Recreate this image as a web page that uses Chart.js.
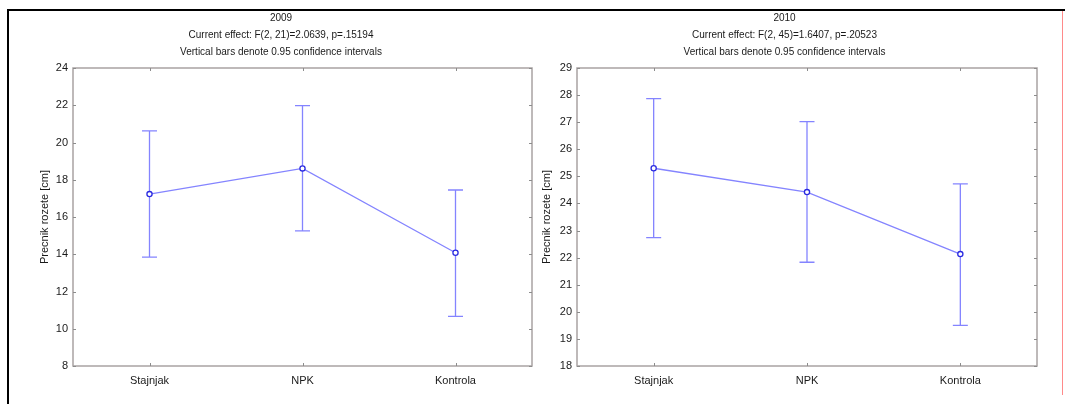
<!DOCTYPE html>
<html>
<head>
<meta charset="utf-8">
<script src="https://cdn.jsdelivr.net/npm/chart.js@4.4.1/dist/chart.umd.min.js"></script>
<style>
    body { margin: 0; background: #ffffff; }
    #page { position: relative; width: 1065px; height: 404px; overflow: hidden; }
    .box { position: absolute; top: 0; height: 404px; }
    #frameTop { position: absolute; left: 8px; top: 9px; width: 1057px; height: 2px; background: #000; }
    #frameLeft { position: absolute; left: 7px; top: 9px; width: 2px; height: 395px; background: #000; }
    #redLine { position: absolute; left: 1062px; top: 11px; width: 1px; height: 384px; background: #ff8a8a; }
</style>
</head>
<body>
<div id="page">
    <div class="box" style="left:30px;width:510px;"><canvas id="chart2009"></canvas></div>
    <div class="box" style="left:532px;width:513px;"><canvas id="chart2010"></canvas></div>
    <div id="frameTop"></div>
    <div id="frameLeft"></div>
    <div id="redLine"></div>
</div>
<script>
// ---------- data ----------
const categories = ["Stajnjak", "NPK", "Kontrola"];

const means2009 = [17.23, 18.61, 14.08];
const lower2009 = [13.85, 15.25, 10.66];
const upper2009 = [20.62, 21.98, 17.45];
const ticks2009 = [8, 10, 12, 14, 16, 18, 20, 22, 24];

const means2010 = [25.30, 24.42, 22.13];
const lower2010 = [22.74, 21.83, 19.50];
const upper2010 = [27.87, 27.02, 24.72];
const ticks2010 = [18, 19, 20, 21, 22, 23, 24, 25, 26, 27, 28, 29];

const yLabel = "Precnik rozete [cm]";

const FONT = "'Liberation Sans', Arial, sans-serif";
const LINE_BLUE = "#8484ff";
const POINT_BLUE = "#2a2ae0";
const FRAME = "#a9a3a3";

// frame, inward ticks and confidence bars
const statPlot = {
    id: "statPlot",
    beforeDatasetsDraw(chart, args, opts) {
        const ctx = chart.ctx;
        const a = chart.chartArea;
        const x = chart.scales.x;
        const y = chart.scales.y;

        ctx.save();
        ctx.strokeStyle = FRAME;
        ctx.lineWidth = 1.5;
        ctx.strokeRect(a.left, a.top, a.right - a.left, a.bottom - a.top);

        ctx.lineWidth = 1;
        ctx.strokeStyle = "#8c8c8c";
        y.ticks.forEach(t => {
            const py = Math.round(y.getPixelForValue(t.value)) + 0.5;
            ctx.beginPath();
            ctx.moveTo(a.left, py); ctx.lineTo(a.left + 3, py);
            ctx.moveTo(a.right, py); ctx.lineTo(a.right - 3, py);
            ctx.stroke();
        });
        categories.forEach((c, i) => {
            const px = Math.round(x.getPixelForValue(i)) + 0.5;
            ctx.beginPath();
            ctx.moveTo(px, a.top); ctx.lineTo(px, a.top + 3);
            ctx.moveTo(px, a.bottom); ctx.lineTo(px, a.bottom - 3);
            ctx.stroke();
        });

        ctx.strokeStyle = LINE_BLUE;
        ctx.lineWidth = 1.3;
        opts.lower.forEach((lo, i) => {
            const px = x.getPixelForValue(i);
            const pLo = y.getPixelForValue(lo);
            const pHi = y.getPixelForValue(opts.upper[i]);
            ctx.beginPath();
            ctx.moveTo(px, pLo); ctx.lineTo(px, pHi);
            ctx.moveTo(px - 7.5, pLo); ctx.lineTo(px + 7.5, pLo);
            ctx.moveTo(px - 7.5, pHi); ctx.lineTo(px + 7.5, pHi);
            ctx.stroke();
        });
        ctx.restore();
    }
};

function makeChart(id, year, effect, means, lower, upper, tickValues, axisWidth) {

    const ctx = document.getElementById(id).getContext("2d");

    return new Chart(ctx, {
        type: "line",
        data: {
            labels: categories,
            datasets: [{
                data: means,
                borderColor: LINE_BLUE,
                borderWidth: 1.3,
                tension: 0,
                pointRadius: 2.6,
                pointBorderWidth: 1.3,
                pointBorderColor: POINT_BLUE,
                pointBackgroundColor: "#ffffff"
            }]
        },
        options: {
            responsive: true,
            maintainAspectRatio: false,
            animation: false,
            layout: { padding: { left: 0, right: 8, top: 0, bottom: 0 } },
            plugins: {
                legend: { display: false },
                tooltip: { enabled: false },
                title: {
                    display: true,
                    text: year,
                    color: "#1a1a1a",
                    font: { family: FONT, size: 10, weight: "normal", lineHeight: 1.2 },
                    padding: { top: 12, bottom: 2.5 }
                },
                subtitle: {
                    display: true,
                    text: [effect, "Vertical bars denote 0.95 confidence intervals"],
                    color: "#1a1a1a",
                    font: { family: FONT, size: 10, lineHeight: "17px" },
                    padding: { top: 0, bottom: 7.5 }
                },
                statPlot: { lower: lower, upper: upper }
            },
            scales: {
                x: {
                    offset: true,
                    grid: { display: false, drawTicks: false },
                    border: { display: false },
                    ticks: { color: "#1a1a1a", padding: 8, font: { family: FONT, size: 11 } },
                    afterFit(scale) { scale.height = 38; }
                },
                y: {
                    min: tickValues[0],
                    max: tickValues[tickValues.length - 1],
                    afterBuildTicks(scale) { scale.ticks = tickValues.map(v => ({ value: v })); },
                    grid: { display: false, drawTicks: false },
                    border: { display: false },
                    ticks: { color: "#1a1a1a", padding: 5, font: { family: FONT, size: 11 } },
                    title: {
                        display: true,
                        text: yLabel,
                        color: "#1a1a1a",
                        font: { family: FONT, size: 11 },
                        padding: { top: 8, bottom: 0 }
                    },
                    afterFit(scale) { scale.width = axisWidth; }
                }
            }
        },
        plugins: [statPlot]
    });
}

makeChart("chart2009", "2009", "Current effect: F(2, 21)=2.0639, p=.15194",
    means2009, lower2009, upper2009, ticks2009, 43);

makeChart("chart2010", "2010", "Current effect: F(2, 45)=1.6407, p=.20523",
    means2010, lower2010, upper2010, ticks2010, 45);
</script>
</body>
</html>
